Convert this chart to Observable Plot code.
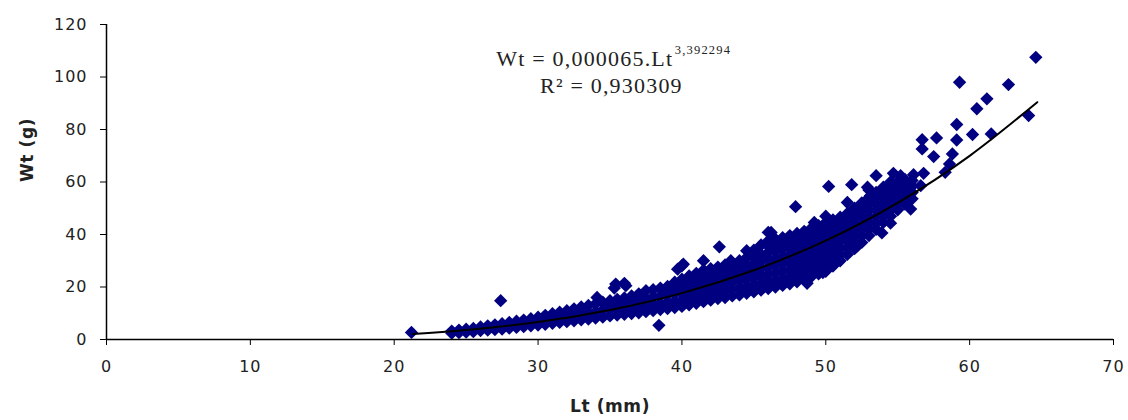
<!DOCTYPE html>
<html><head><meta charset="utf-8">
<script src="https://cdn.jsdelivr.net/npm/d3@7"></script>
<script src="https://cdn.jsdelivr.net/npm/@observablehq/plot@0.6"></script>
<style>
body{margin:0;background:#fff;}
#chart svg{display:block;}
#chart g[aria-label="x-axis tick label"] text, #chart g[aria-label="y-axis tick label"] text {letter-spacing:1px;}
#chart g[font-family*="Serif"] text {letter-spacing:1.2px;}
#chart g[font-weight="bold"] text {letter-spacing:0.6px;}
</style></head><body><div id="chart"></div>
<script>
// Dense band of measurements, read column by column (Lt in mm, Wt in g)
const bandLt = [24.0,24.5,25.0,25.5,26.0,26.5,27.0,27.5,28.0,28.5,29.0,29.5,30.0,30.5,31.0,31.5,32.0,32.5,33.0,33.5,34.0,34.5,35.0,35.5,36.0,36.5,37.0,37.5,38.0,38.5,39.0,39.5,40.0,40.5,41.0,41.5,42.0,42.5,43.0,43.5,44.0,44.5,45.0,45.5,46.0,46.5,47.0,47.5,48.0,48.5,49.0,49.5,50.0,50.5,51.0,51.5,52.0,52.5,53.0,53.5,54.0,54.5,55.0,55.5,56.0];
const bandWt = [
  [2.4,3.2],[2.6,3.6],[2.8,3.9],[3.0,4.2],[3.4,4.8],[3.6,5.2],[3.8,5.6],[4.0,5.0,6.0],[4.3,5.4,6.5],[4.6,5.8,7.0],
  [4.9,6.2,7.4],[5.2,6.5,7.9],[5.5,7.0,8.5],[5.8,7.5,9.2],[6.2,8.0,9.8],[6.5,8.5,10.4],[6.8,8.9,11.0],[7.1,9.3,11.7],
  [7.5,9.8,12.4],[7.8,10.2,13.0],[8.2,10.6,13.6],[8.5,11.2,14.2],[9.0,11.6,13.4,14.8],[9.3,11.4,13.6,15.3],
  [9.6,11.8,13.8,15.8],[9.9,12.2,14.4,16.6],[10.2,12.6,15.0,17.4],[10.6,13.0,15.6,18.6],[11.0,13.4,16.2,19.0],
  [11.4,13.8,16.6,19.6],[11.8,14.2,17.0,18.8,20.2],[12.2,14.6,17.4,19.6,21.8],[12.6,15.0,17.6,20.2,23.0],
  [13.2,15.6,18.2,20.8,22.4,24.2],[13.8,16.2,18.8,21.4,23.2,25.2],[14.4,16.8,19.4,22.0,24.2,26.4],
  [15.0,17.4,20.0,22.6,24.8,27.0],[15.6,18.0,20.6,23.2,25.6,27.6],[16.0,18.6,21.2,23.8,26.2,28.4],
  [16.6,19.2,21.8,24.4,26.8,29.2],[17.0,19.6,22.4,25.0,27.6,30.0],[17.6,20.2,23.0,25.6,28.2,31.2],
  [18.2,20.8,23.6,26.2,29.0,31.6,34.0],[18.8,21.4,24.2,27.0,29.8,32.4,36.0],
  [19.4,22.0,24.8,27.6,30.4,33.2,35.6,37.6],[20.0,22.6,25.4,28.2,31.0,33.8,36.2,38.2],
  [20.6,23.2,26.0,28.8,31.6,34.4,36.8,38.8],[21.2,23.8,26.6,29.4,32.2,35.0,37.6,39.6],
  [22.0,24.6,27.4,30.2,33.0,35.8,38.4,40.4],[23.0,25.6,28.4,31.2,34.0,36.8,39.4,41.2],
  [24.0,26.6,29.4,32.2,35.0,37.8,40.4,42.4],[25.0,27.6,30.4,33.2,36.0,38.8,41.4,43.4],
  [26.0,28.6,31.4,34.2,37.0,39.8,42.6,44.6,47.0],[28.0,30.6,33.2,36.0,38.8,41.6,44.2,45.6],
  [30.0,32.4,35.0,37.6,40.2,42.8,45.0,46.6],[32.4,34.8,37.2,39.6,42.0,44.4,46.6,48.0],
  [34.6,37.0,39.4,41.8,44.2,46.6,48.6,50.0],[37.0,39.4,41.8,44.2,46.6,49.0,51.0,52.0],
  [39.6,42.0,44.4,46.8,49.2,51.6,53.4,54.0],[42.0,44.4,46.8,49.2,51.6,54.0,56.0],
  [44.6,47.0,49.4,51.8,54.2,56.4,58.0],[47.0,49.4,51.8,54.2,56.6,58.6,60.0],
  [49.4,51.8,54.2,56.6,58.6,60.0],[51.6,54.0,56.4,58.6,61.0],[53.6,56.0,58.4,60.6]
];
// Isolated points
const outLt = [21.2,27.4,34.1,35.3,35.4,36.0,36.1,38.4,39.7,40.0,40.1,41.5,42.6,43.4,44.5,46.0,46.2,47.9,48.7,49.2,49.8,50.2,51.5,51.8,52.2,52.9,53.1,53.0,53.5,53.9,54.5,54.7,55.2,55.7,55.9,56.1,56.6,56.7,56.7,56.8,57.5,57.7,58.3,58.6,58.8,59.1,59.1,59.3,60.2,60.5,61.2,61.5,62.7,64.1,64.6];
const outWt = [2.7,14.8,16.0,19.6,21.1,21.4,20.5,5.4,26.8,28.1,28.7,30.0,35.3,30.0,33.8,40.8,40.8,50.6,21.4,44.6,25.5,58.3,52.2,59.0,35.7,58.0,54.8,57.0,62.4,40.6,44.3,63.3,62.4,52.2,49.7,62.8,58.6,76.1,72.6,63.3,69.7,76.8,63.7,66.9,70.7,76.0,81.9,98.0,78.1,87.9,91.7,78.3,97.1,85.3,107.5];
// Power trend line (Wt = 0,000065·Lt^3,392294)
const trendLt = [21.3,25,30,35,40,45,50,55,60,64.7];
const trendWt = [2.09,3.59,6.66,11.24,17.68,26.37,37.70,52.09,69.97,90.38];
const xTicks = [0,10,20,30,40,50,60,70];
const yTicks = [0,20,40,60,80,100,120];
const xTitle = "Lt (mm)";
const yTitle = "Wt (g)";
const eqMain = "Wt = 0,000065.Lt";
const eqExp = "3,392294";
const eqR2 = "R² = 0,930309";

const points = [];
bandLt.forEach((x, i) => bandWt[i].forEach(w => points.push({lt: x, wt: w})));
outLt.forEach((x, i) => points.push({lt: x, wt: outWt[i]}));
const trend = trendLt.map((x, i) => ({lt: x, wt: trendWt[i]}));

const tickFont = {fontSize: 16, fill: "#222"};
const serif = "'Liberation Serif', 'Times New Roman', serif";
const chart = Plot.plot({
  width: 1128, height: 420,
  marginLeft: 106, marginRight: 15, marginTop: 24, marginBottom: 81,
  style: {background: "#fff", fontFamily: "'DejaVu Sans', sans-serif", color: "#222", overflow: "visible"},
  x: {domain: [0, 70]},
  y: {domain: [0, 120]},
  marks: [
    Plot.dot(points, {x: "lt", y: "wt", symbol: d3.symbolDiamond2, r: 6, fill: "#000080", stroke: "none"}),
    Plot.line(trend, {x: "lt", y: "wt", curve: "natural", stroke: "#000", strokeWidth: 2}),
    Plot.ruleX([0], {stroke: "#000", strokeWidth: 1.5}),
    Plot.ruleY([0], {stroke: "#000", strokeWidth: 1.5}),
    Plot.axisX({ticks: xTicks, tickSize: 6, tickPadding: 15, label: null, stroke: "#000", ...tickFont}),
    Plot.axisY({ticks: yTicks, tickSize: 6, tickPadding: 13, label: null, stroke: "#000", ...tickFont}),
    Plot.text([xTitle], {frameAnchor: "bottom", dy: 72, text: d => d, fontWeight: "bold", fontSize: 17, fill: "#222"}),
    Plot.text([yTitle], {frameAnchor: "left", dx: -79, rotate: -90, text: d => d, fontWeight: "bold", fontSize: 17, fill: "#222"}),
    Plot.text([eqMain], {x: 39.4, y: 104.2, text: d => d, textAnchor: "end", lineAnchor: "bottom", fontFamily: serif, fontSize: 22, fill: "#222"}),
    Plot.text([eqExp], {x: 39.5, y: 108.6, text: d => d, textAnchor: "start", lineAnchor: "bottom", fontFamily: serif, fontSize: 12.5, fill: "#222"}),
    Plot.text([eqR2], {x: 35.1, y: 94.0, text: d => d, lineAnchor: "bottom", fontFamily: serif, fontSize: 22, fill: "#222"})
  ]
});
document.getElementById("chart").appendChild(chart);
</script>
</body></html>
